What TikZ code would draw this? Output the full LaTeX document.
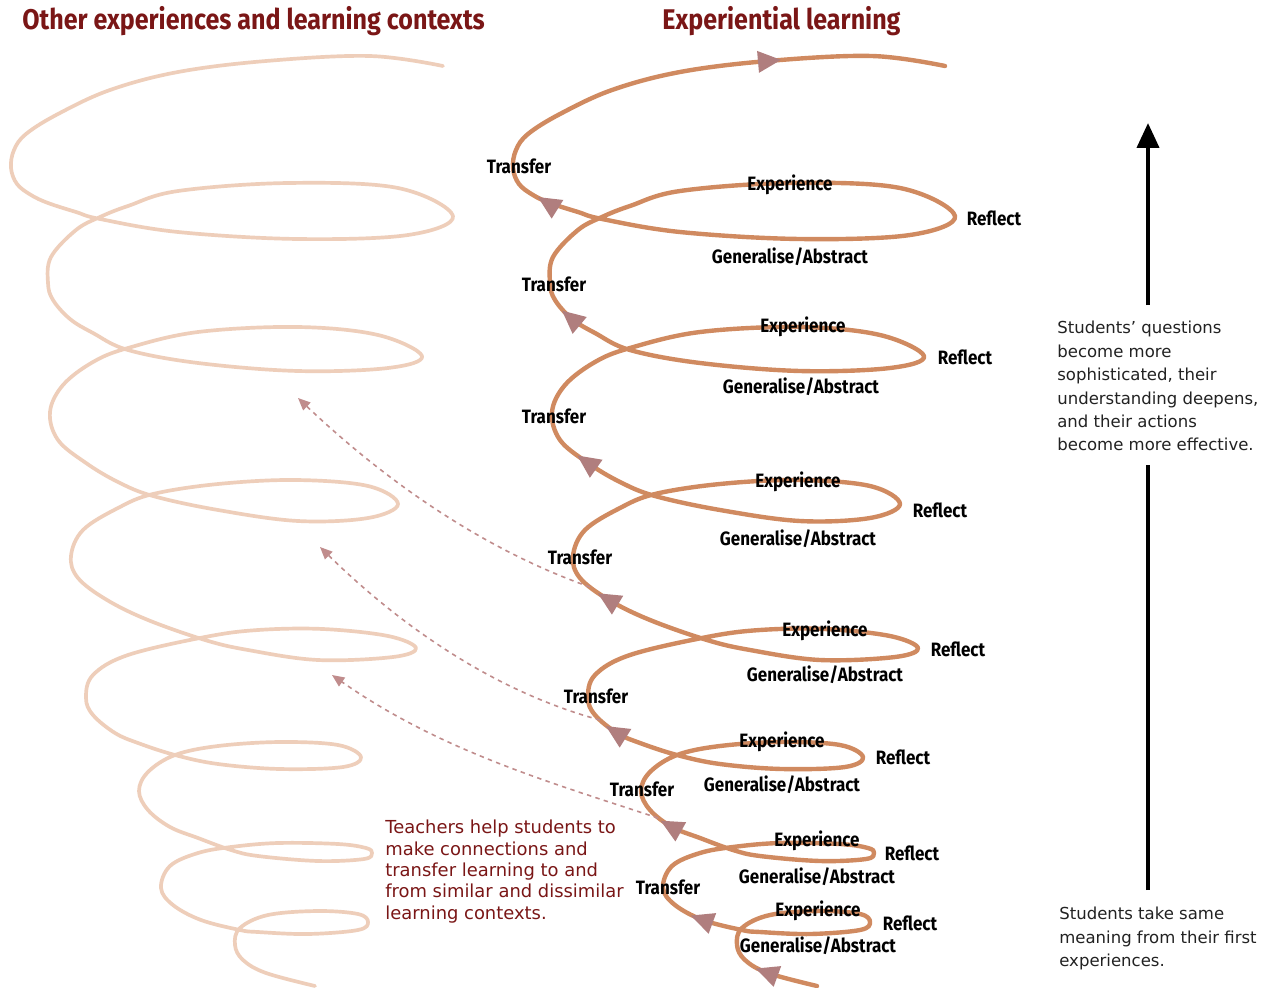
\documentclass[tikz,border=0pt]{standalone}
\usepackage{fontspec}
\setmainfont{DejaVu Sans}
\newfontfamily\labfont[FakeStretch=0.88]{Fira Sans}
\usetikzlibrary{arrows.meta}
\definecolor{spiralc}{RGB}{208,138,96}
\definecolor{ghostc}{RGB}{238,206,186}
\definecolor{tric}{RGB}{176,126,126}
\definecolor{dashc}{RGB}{192,140,140}
\definecolor{titlec}{RGB}{122,22,22}
\definecolor{bodyc}{RGB}{34,34,34}
\newcommand\spiralpath{plot[smooth,tension=0.6] coordinates {
(817,986) (768,973) (745,960) (737,945) (742,928) (770,915) (820,911) (860,914) (870,922) (860,930) (810,934) (760,932) (742,930) (703,920) (675,905) (663,888) (672,866) (700,853) (733,847) (780,843) (840,844) (868,848) (874,853) (866,859) (820,861) (760,856) (733,850) (700,838) (672,827) (650,810) (641,791) (650,772) (677,755) (720,746) (782,742) (840,745) (863,757) (845,767) (782,769) (720,764) (677,755) (640,743) (617,733) (595,715) (588,698) (595,675) (630,655) (707,637) (760,630) (825,629) (890,636) (918,648) (895,657) (820,660) (750,650) (707,640) (650,620) (609,600) (580,578) (573,556) (585,530) (620,508) (655,494) (720,484) (798,480) (870,486) (900,504) (870,518) (800,521) (720,510) (655,496) (620,482) (588,463) (560,440) (552,412) (565,385) (595,362) (630,348) (700,332) (800,327) (880,335) (924,356) (890,368) (800,371) (700,363) (630,350) (595,333) (572,319) (555,300) (550,283) (553,257) (578,230) (602,217) (630,206) (680,191) (790,183) (900,188) (955,216) (910,235) (800,239) (680,232) (602,219) (578,212) (550,203) (533,195) (519,184) (513,168) (516,150) (528,134) (560,114) (612,90) (680,72) (768,61) (872,56) (945,66)}}
\newcommand\headtri[3]{\fill[tri, shift={(#1,#2)}, rotate=#3] (13,0) -- (-10,11) -- (-10,-11) -- cycle;}
\tikzset{
  mainspiral/.style={draw=spiralc, line width=2.5pt, line cap=round, line join=round},
  ghostspiral/.style={draw=ghostc, line width=2.1pt, line cap=round, line join=round},
  tri/.style={fill=tric},
  lab/.style={font=\labfont\bfseries\fontsize{11}{12}\selectfont, text=black, inner sep=0pt},
  ttl/.style={font=\labfont\bfseries\fontsize{16.2}{18}\selectfont, text=titlec, inner sep=0pt},
  teachnote/.style={font=\fontsize{10.2}{12.1}\selectfont, text=titlec, inner sep=0pt, align=left, anchor=north west},
  sidenote/.style={font=\fontsize{9.4}{13.3}\selectfont, text=bodyc, inner sep=0pt, align=left, anchor=north west},
  link/.style={draw=dashc, line width=0.9pt, dash pattern=on 2.5pt off 2.5pt, -{Triangle[length=7pt,width=6pt]}},
  bigarrow/.style={draw=black, line width=2.3pt}
}
\begin{document}
\begin{tikzpicture}[x=0.02cm,y=-0.02cm]
\fill[white] (0,0) rectangle (1277,987);
\useasboundingbox (0,0) rectangle (1277,987);
% ghost spiral (other contexts)
\begin{scope}[shift={(-502,0)}]
\draw[ghostspiral] \spiralpath;
\end{scope}
% main spiral
\draw[mainspiral] \spiralpath;
% direction heads
\headtri{768}{61}{5}
\headtri{549}{204}{148}
\headtri{572}{319}{140}
\headtri{588}{463}{145}
\headtri{609}{600}{149}
\headtri{617}{733}{148}
\headtri{672}{827}{151}
\headtri{703}{920}{160}
\headtri{768}{973}{160}
% titles
\node[ttl, anchor=west] (tleft) at (22,21) {Other experiences and learning contexts};
\node[ttl, anchor=west] (tright) at (662,21) {Experiential learning};
% cycle labels
\node[lab] (t1) at (519,166) {Transfer};
\node[lab] (e1) at (790,185) {Experience};
\node[lab] (r1) at (994,218) {Reflect};
\node[lab] (g1) at (790,257) {Generalise/Abstract};
\node[lab] (t2) at (554,284) {Transfer};
\node[lab] (e2) at (803,327) {Experience};
\node[lab] (r2) at (965,357) {Reflect};
\node[lab] (g2) at (801,387) {Generalise/Abstract};
\node[lab] (t3) at (554,416) {Transfer};
\node[lab] (e3) at (798,482) {Experience};
\node[lab] (r3) at (940,510) {Reflect};
\node[lab] (g3) at (798,539) {Generalise/Abstract};
\node[lab] (t4) at (580,557) {Transfer};
\node[lab] (e4) at (825,631) {Experience};
\node[lab] (r4) at (958,649) {Reflect};
\node[lab] (g4) at (825,675) {Generalise/Abstract};
\node[lab] (t5) at (596,696) {Transfer};
\node[lab] (e5) at (782,742) {Experience};
\node[lab] (r5) at (903,757) {Reflect};
\node[lab] (g5) at (782,785) {Generalise/Abstract};
\node[lab] (t6) at (642,789) {Transfer};
\node[lab] (e6) at (817,841) {Experience};
\node[lab] (r6) at (912,853) {Reflect};
\node[lab] (g6) at (817,877) {Generalise/Abstract};
\node[lab] (t7) at (668,887) {Transfer};
\node[lab] (e7) at (818,911) {Experience};
\node[lab] (r7) at (910,923) {Reflect};
\node[lab] (g7) at (818,946) {Generalise/Abstract};
% dashed transfer links
\coordinate (d1s) at (590,587); \coordinate (d1e) at (298,398);
\coordinate (d2s) at (600,720); \coordinate (d2e) at (320,547);
\coordinate (d3s) at (658,818); \coordinate (d3e) at (332,675);
\draw[link] (d1s) .. controls (493,553) and (395,490) .. (d1e);
\draw[link] (d2s) .. controls (507,695) and (413,638) .. (d2e);
\draw[link] (d3s) .. controls (549,782) and (441,751) .. (d3e);
% notes
\node[teachnote] (teach) at (385,820) {Teachers help students to\\make connections and\\transfer learning to and\\from similar and dissimilar\\learning contexts.};
\node[sidenote] (soph) at (1057,321) {Students' questions\\become more\\sophisticated, their\\understanding deepens,\\and their actions\\become more effective.};
\node[sidenote] (first) at (1059,907) {Students take same\\meaning from their first\\experiences.};
% growth arrow
\coordinate (gTop) at (1148,123);
\coordinate (gUp) at (1148,305);
\coordinate (gLow) at (1148,465);
\coordinate (gBot) at (1148,890);
\draw[bigarrow, -{Triangle[length=0.5cm,width=0.44cm]}] (gUp) -- (gTop);
\draw[bigarrow] (gBot) -- (gLow);
\end{tikzpicture}
\end{document}
